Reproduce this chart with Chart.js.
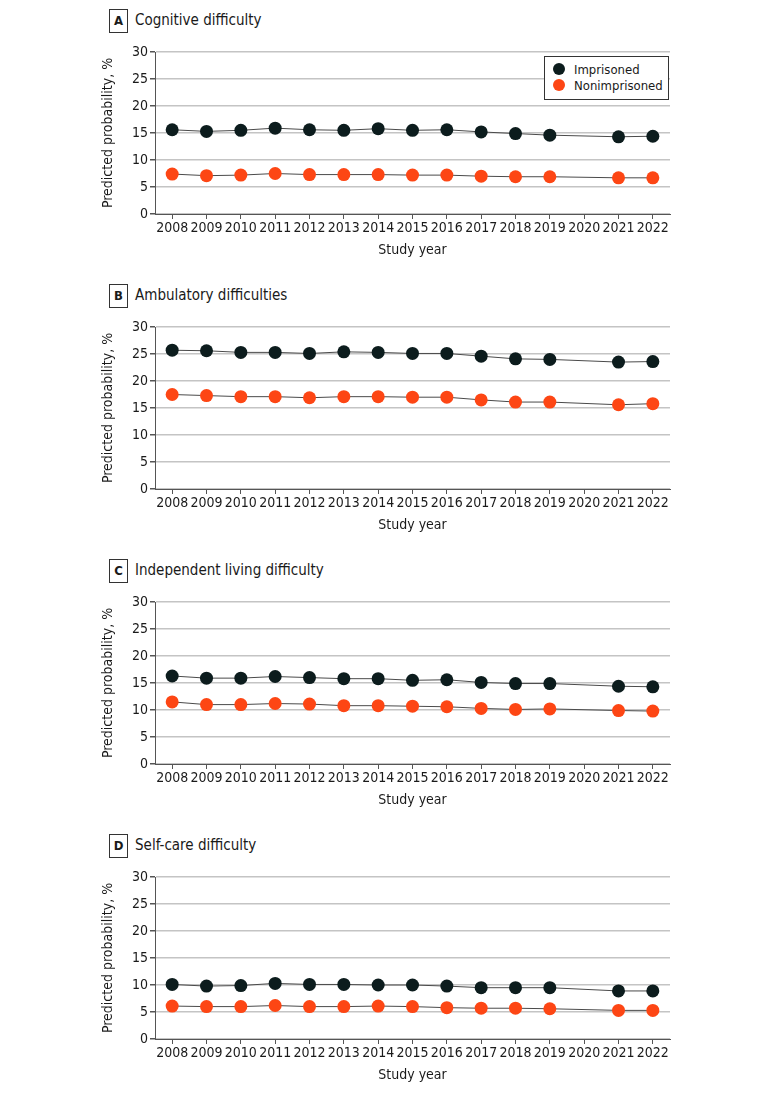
<!DOCTYPE html>
<html>
<head>
<meta charset="utf-8">
<script src="https://cdn.jsdelivr.net/npm/chart.js@4.4.1/dist/chart.umd.min.js"></script>
<style>
  body { margin: 0; background: #fff; }
  #page { position: relative; width: 780px; height: 1094px; font-family: "Liberation Sans Narrow", "DejaVu Sans Condensed", Roboto, sans-serif; color: #1a1a1a; }
  .letter { position: absolute; width: 17px; height: 22px; border: 1px solid #333; font-weight: bold; font-size: 13px; line-height: 22px; text-align: center; }
  .ptitle { position: absolute; font-size: 15px; line-height: 22px; }
  .wrap { position: absolute; left: 100px; width: 580px; height: 222px; }
  #legend { position: absolute; left: 544px; top: 56px; width: 123px; height: 42px; border: 1px solid #333; background: #fff; font-size: 13px; white-space: nowrap; }
  #legend div { position: absolute; left: 8px; height: 16px; line-height: 16px; }
  #legend span { display: inline-block; width: 12px; height: 12px; border-radius: 50%; vertical-align: -1px; margin-right: 9px; }
</style>
</head>
<body>
<div id="page"></div>
<script>
const years = ['2008', '2009', '2010', '2011', '2012', '2013', '2014', '2015', '2016', '2017', '2018', '2019', '2020', '2021', '2022'];
const yTicks = [0, 5, 10, 15, 20, 25, 30];

const panelLetters = ['A', 'B', 'C', 'D'];
const panelTitles = ['Cognitive difficulty', 'Ambulatory difficulties', 'Independent living difficulty', 'Self-care difficulty'];

const seriesNames = ['Imprisoned', 'Nonimprisoned'];
const seriesColors = ['#0c1c1d', '#fd4614'];

// 2020 has no survey data
const cognitiveImp = [15.6, 15.3, 15.5, 15.9, 15.6, 15.5, 15.8, 15.5, 15.6, 15.2, 14.9, 14.6, null, 14.3, 14.4];
const cognitiveNon = [7.4, 7.1, 7.2, 7.5, 7.3, 7.3, 7.3, 7.2, 7.2, 7.0, 6.9, 6.9, null, 6.7, 6.7];
const ambulatoryImp = [25.7, 25.6, 25.3, 25.3, 25.1, 25.4, 25.3, 25.1, 25.1, 24.6, 24.1, 24.0, null, 23.5, 23.6];
const ambulatoryNon = [17.5, 17.3, 17.1, 17.1, 16.9, 17.1, 17.1, 17.0, 17.0, 16.5, 16.1, 16.1, null, 15.6, 15.8];
const independentImp = [16.3, 15.9, 15.9, 16.2, 16.0, 15.8, 15.8, 15.5, 15.6, 15.1, 14.9, 14.9, null, 14.4, 14.3];
const independentNon = [11.5, 11.0, 11.0, 11.2, 11.1, 10.8, 10.8, 10.7, 10.6, 10.3, 10.1, 10.2, null, 9.9, 9.8];
const selfcareImp = [10.1, 9.8, 9.9, 10.3, 10.1, 10.1, 10.0, 10.0, 9.8, 9.5, 9.5, 9.5, null, 8.9, 8.9];
const selfcareNon = [6.1, 6.0, 6.0, 6.2, 6.0, 6.0, 6.1, 6.0, 5.8, 5.7, 5.7, 5.6, null, 5.3, 5.3];

const panelData = [
    [cognitiveImp, cognitiveNon],
    [ambulatoryImp, ambulatoryNon],
    [independentImp, independentNon],
    [selfcareImp, selfcareNon]
];

const fontFamily = '"Liberation Sans Narrow", "DejaVu Sans Condensed", Roboto, sans-serif';
Chart.defaults.font.family = fontFamily;
Chart.defaults.color = '#1a1a1a';

const page = document.getElementById('page');

panelLetters.forEach((letter, i) => {
    const top = i * 275;

    let box = document.createElement('div');
    box.className = 'letter';
    box.style.left = '109px';
    box.style.top = (top + 9) + 'px';
    box.textContent = letter;
    page.appendChild(box);

    let title = document.createElement('div');
    title.className = 'ptitle';
    title.style.left = '135px';
    title.style.top = (top + 9) + 'px';
    title.textContent = panelTitles[i];
    page.appendChild(title);

    let wrap = document.createElement('div');
    wrap.className = 'wrap';
    wrap.style.top = (top + 40) + 'px';
    let canvas = document.createElement('canvas');
    wrap.appendChild(canvas);
    page.appendChild(wrap);

    new Chart(canvas, {
        type: 'line',
        data: {
            labels: years,
            datasets: panelData[i].map((values, k) => ({
                label: seriesNames[k],
                data: values,
                borderColor: '#4a4a4a',
                borderWidth: 1,
                backgroundColor: seriesColors[k],
                pointBackgroundColor: seriesColors[k],
                pointBorderWidth: 0,
                pointRadius: 6.5,
                spanGaps: true,
                fill: false,
                tension: 0
            }))
        },
        options: {
            responsive: true,
            maintainAspectRatio: false,
            animation: false,
            layout: { padding: { top: 12, right: 10, left: 0, bottom: 0 } },
            plugins: {
                legend: { display: false },
                tooltip: { enabled: false }
            },
            scales: {
                x: {
                    offset: true,
                    afterFit: (axis) => { axis.height = 48; },
                    grid: { drawOnChartArea: false, drawTicks: true, tickLength: 5, tickColor: '#555', offset: false },
                    border: { color: '#555', width: 1 },
                    ticks: { font: { size: 14 }, padding: 1, maxRotation: 0, autoSkip: false },
                    title: { display: true, text: 'Study year', font: { size: 14 }, padding: { top: 0, bottom: 3 } }
                },
                y: {
                    min: 0,
                    max: 30,
                    afterFit: (axis) => { axis.width = 55; },
                    afterBuildTicks: (axis) => { axis.ticks = yTicks.map(v => ({ value: v })); },
                    grid: { color: '#c4c4c4', lineWidth: 1.5, tickLength: 5, tickColor: '#555' },
                    border: { color: '#555', width: 1 },
                    ticks: { font: { size: 14 }, padding: 2 },
                    title: { display: true, text: 'Predicted probability, %', font: { size: 14 }, padding: { top: 0, bottom: 4 } }
                }
            }
        }
    });
});

// legend of panel A
let legend = document.createElement('div');
legend.id = 'legend';
seriesNames.forEach((name, k) => {
    let row = document.createElement('div');
    row.style.top = (5 + k * 16) + 'px';
    row.innerHTML = '<span style="background:' + seriesColors[k] + '"></span>' + name;
    legend.appendChild(row);
});
page.appendChild(legend);
</script>
</body>
</html>
